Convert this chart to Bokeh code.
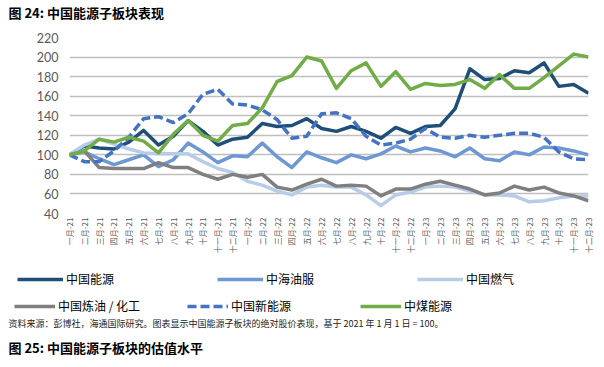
import math
from bokeh.plotting import figure
from bokeh.layouts import column
from bokeh.models import Range1d, FixedTicker, Legend, LegendItem, Label
from bokeh.embed import file_html
from bokeh.resources import INLINE

months = ["一月-21", "二月-21", "三月-21", "四月-21", "五月-21", "六月-21",
          "七月-21", "八月-21", "九月-21", "十月-21", "十一月-21", "十二月-21",
          "一月-22", "二月-22", "三月-22", "四月-22", "五月-22", "六月-22",
          "七月-22", "八月-22", "九月-22", "十月-22", "十一月-22", "十二月-22",
          "一月-23", "二月-23", "三月-23", "四月-23", "五月-23", "六月-23",
          "七月-23", "八月-23", "九月-23", "十月-23", "十一月-23", "十二月-23"]

china_energy = [100, 109, 107, 106, 113, 125, 110, 119, 135, 124, 110, 116,
                118, 132, 129, 130, 137, 127, 124, 129, 124, 117, 128, 122,
                129, 130, 147, 188, 177, 178, 186, 184, 194, 170, 172, 163]
cosl = [100, 103, 96, 90, 95, 100, 88, 95, 112, 103, 92, 99,
        98, 112, 98, 87, 103, 97, 92, 100, 96, 101, 109, 103,
        107, 104, 98, 107, 96, 94, 103, 100, 108, 107, 104, 100]
china_gas = [100, 110, 116, 111, 106, 102, 101, 101, 101, 93, 86, 82,
             73, 69, 63, 59, 67, 69, 67, 67, 59, 48, 59, 62,
             67, 68, 67, 63, 59, 59, 58, 52, 53, 56, 58, 58]
refining = [100, 104, 87, 86, 86, 86, 92, 87, 87, 80, 75, 80,
            77, 80, 67, 64, 70, 75, 68, 69, 68, 58, 65, 65,
            70, 73, 69, 65, 59, 61, 68, 64, 67, 61, 58, 53]
new_energy = [100, 93, 93, 104, 118, 137, 139, 133, 142, 162, 167, 152,
              151, 146, 136, 117, 119, 142, 143, 137, 119, 110, 112, 116,
              127, 118, 117, 120, 118, 120, 122, 122, 118, 103, 96, 95]
coal = [100, 104, 116, 113, 118, 114, 102, 121, 135, 120, 114, 130,
        132, 148, 175, 181, 200, 196, 168, 186, 194, 170, 185, 167,
        173, 171, 172, 177, 168, 182, 168, 168, 179, 191, 203, 200]

y_ticks = [40, 60, 80, 100, 120, 140, 160, 180, 200, 220]

series_names = ["中国能源", "中海油服", "中国燃气", "中国炼油 / 化工", "中国新能源", "中煤能源"]
series_values = [china_energy, cosl, china_gas, refining, new_energy, coal]
series_colors = ["#1F4E79", "#6E98D3", "#B8CCE8", "#7F7F7F", "#4472C4", "#70AD47"]
series_dash = ["solid", "solid", "solid", "solid", "9 4", "solid"]

title_text = "图 24:  中国能源子板块表现"
source_text = "资料来源：彭博社，海通国际研究。图表显示中国能源子板块的绝对股价表现，基于 2021 年 1 月 1 日 = 100。"
next_title_text = "图 25:  中国能源子板块的估值水平"

CJK = "Noto Sans CJK SC"
W = 604
LW = 3.5
NAN = float("nan")


def blank_fig(h):
    f = figure(width=W, height=h, output_backend="svg", toolbar_location=None,
               x_range=Range1d(0, W), y_range=Range1d(0, h),
               x_axis_type=None, y_axis_type=None,
               min_border=0, min_border_left=0, min_border_right=0,
               min_border_top=0, min_border_bottom=0, frame_align=False)
    f.grid.visible = False
    f.outline_line_color = None
    return f


# ---- top title strip
TOP_H = 30
ptop = blank_fig(TOP_H)
ptop.add_layout(Label(x=8, y=TOP_H - 12, text=title_text, text_font=CJK,
                      text_font_size="13px", text_font_style="bold",
                      text_color="#000000", text_baseline="middle"))

# ---- chart
x = list(range(len(months)))
CH_H = 7 + 176 + 47
p = figure(width=W, height=CH_H, output_backend="svg",
           toolbar_location=None,
           x_range=Range1d(0, len(months) - 1),
           y_range=Range1d(y_ticks[0], y_ticks[-1]),
           min_border_left=69, min_border_right=16, min_border_top=7,
           min_border_bottom=47, frame_align=False)
p.outline_line_color = None

p.xgrid.visible = False
p.ygrid.grid_line_color = "#BFBFBF"
p.ygrid.grid_line_width = 1.5
p.ygrid.ticker = FixedTicker(ticks=y_ticks)

p.yaxis.ticker = FixedTicker(ticks=y_ticks)
p.yaxis.axis_line_color = None
p.yaxis.major_tick_line_color = None
p.yaxis.minor_tick_line_color = None
p.yaxis.major_tick_out = 0
p.yaxis.major_tick_in = 0
p.yaxis.minor_tick_out = 0
p.yaxis.major_label_text_font = "Lato"
p.yaxis.major_label_text_font_size = "12.5px"
p.yaxis.major_label_text_color = "#595959"
p.yaxis.major_label_standoff = 11

p.xaxis.ticker = FixedTicker(ticks=x)
p.xaxis.major_label_overrides = {i: m for i, m in enumerate(months)}
p.xaxis.major_label_orientation = math.pi / 2
p.xaxis.axis_line_color = None
p.xaxis.major_tick_line_color = None
p.xaxis.minor_tick_line_color = None
p.xaxis.major_tick_out = 0
p.xaxis.major_tick_in = 0
p.xaxis.minor_tick_out = 0
p.xaxis.major_label_text_font = CJK
p.xaxis.major_label_text_font_size = "8px"
p.xaxis.major_label_text_color = "#595959"
p.xaxis.major_label_standoff = 4

for vals, col, dash in zip(series_values, series_colors, series_dash):
    p.line(x, vals, line_color=col, line_width=LW, line_dash=dash, line_join="round")

# ---- bottom strip: legend + notes
BOT_H = 367 - TOP_H - CH_H
pbot = blank_fig(BOT_H)
# legend-only glyph renderers (a single NaN point draws nothing)
dummies = [pbot.line([NAN], [NAN], line_color=c, line_width=LW, line_dash=d)
           for c, d in zip(series_colors, series_dash)]


def make_legend(idx, loc, gw, lw):
    return Legend(items=[LegendItem(label=series_names[i], renderers=[dummies[i]]) for i in idx],
                  orientation="horizontal", location=loc,
                  border_line_color=None, background_fill_alpha=0,
                  padding=0, margin=0, spacing=0,
                  glyph_width=gw, glyph_height=16, label_height=16,
                  label_width=lw, label_standoff=3,
                  label_text_font=CJK, label_text_font_size="12px",
                  label_text_color="#000000")


# local y = 367 - page y
pbot.add_layout(make_legend([0, 1, 2], (17, 367 - 287), 46, 151), "center")
pbot.add_layout(make_legend([3, 4, 5], (14, 367 - 314), 41, 129), "center")
pbot.add_layout(Label(x=8, y=367 - 323, text=source_text, text_font=CJK,
                      text_font_size="9px", text_color="#222222",
                      text_baseline="middle"))
pbot.add_layout(Label(x=8, y=367 - 347, text=next_title_text, text_font=CJK,
                      text_font_size="13px", text_font_style="bold",
                      text_color="#000000", text_baseline="middle"))

layout = column(ptop, p, pbot, spacing=0)
open("out.html", "w").write(file_html(layout, INLINE))
